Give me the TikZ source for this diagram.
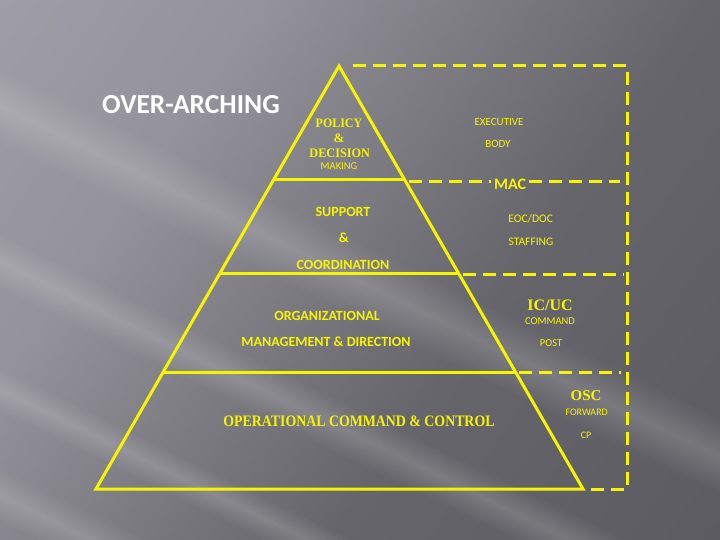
\documentclass[tikz,border=0pt]{standalone}
\usepackage{fontspec}
\setmainfont{Liberation Serif}
\setsansfont{Carlito}
\usetikzlibrary{fadings,calc}
\definecolor{ylw}{HTML}{F7F400}
\definecolor{bgA}{HTML}{AAA8AF}
\definecolor{bgB}{HTML}{94929A}
\definecolor{bgC}{HTML}{66656B}
\definecolor{bgD}{HTML}{56555B}
\pgfdeclarehorizontalshading{bgshade}{100bp}{color(0bp)=(bgA); color(32bp)=(bgB); color(60bp)=(bgC); color(100bp)=(bgD)}
\tikzfading[name=streakfade, top color=transparent!100, bottom color=transparent!100, middle color=transparent!84]
\newcommand{\fs}[1]{\fontsize{#1}{#1}\selectfont}
\tikzset{
  solidline/.style={draw=ylw, line width=3pt, line join=miter},
  dashline/.style={draw=ylw, line width=3pt, dash pattern=on 13pt off 7pt},
  ytxt/.style={text=ylw, anchor=base, inner sep=0pt},
  ysans/.style={ytxt, font=\sffamily\fs{#1}},
  ysansb/.style={ytxt, font=\sffamily\bfseries\fs{#1}},
  yserif/.style={ytxt, font=\rmfamily\bfseries\fs{#1}},
}
\begin{document}
\begin{tikzpicture}[x=1pt,y=-1pt]
\useasboundingbox (0,0) rectangle (720,540);
\clip (0,0) rectangle (720,540);
% background
\shade[shading=bgshade, shading angle=-35] (0,0) rectangle (720,540);
\begin{scope}[transform canvas={rotate around={-26:(0,0)}}]
  \fill[white, path fading=streakfade] (-300,60) rectangle (900,130);
  \fill[white, path fading=streakfade] (-300,210) rectangle (900,260);
  \fill[white, path fading=streakfade] (-300,330) rectangle (900,370);
  \fill[white, path fading=streakfade] (-300,420) rectangle (900,470);
\end{scope}
% triangle
\coordinate (A) at (339,66);
\coordinate (BL) at (96,489);
\coordinate (BR) at (583,489);
\draw[solidline] (A) -- (BL) -- (BR) -- cycle;
\coordinate (L1) at ($(A)!0.2695!(BL)$);
\coordinate (R1) at ($(A)!0.2695!(BR)$);
\coordinate (L2) at ($(A)!0.4917!(BL)$);
\coordinate (R2) at ($(A)!0.4917!(BR)$);
\coordinate (L3) at ($(A)!0.7246!(BL)$);
\coordinate (R3) at ($(A)!0.7246!(BR)$);
\draw[solidline] (L1) -- (R1);
\draw[solidline] (L2) -- (R2);
\draw[solidline] (L3) -- (R3);
% dashed frame
\coordinate (T0) at (353,66);
\coordinate (TR) at (627,66);
\coordinate (BRc) at (627,489);
\coordinate (B0) at (591,489);
\draw[dashline] (T0) -- (TR) -- (BRc) -- (B0);
\node[ysansb=16] (mac) at (510,189.3) {MAC};
\coordinate (D1a) at (409,182);
\coordinate (D1b) at (620,182);
\draw[dashline] (D1a) -- ([xshift=-3pt]mac.west |- D1a);
\draw[dashline] ([xshift=3pt]mac.east |- D1b) -- (D1b);
\coordinate (D2a) at (463,274);
\coordinate (D2b) at (624,274);
\draw[dashline] (D2a) -- (D2b);
\coordinate (D3a) at (519,372.5);
\coordinate (D3b) at (621,372.5);
\draw[dashline] (D3a) -- (D3b);
% texts
\node[anchor=base, inner sep=0pt, text=white, font=\sffamily\bfseries\fs{27.5}] (over) at (191,114) {OVER-ARCHING};
\node[yserif=13] (policy) at (339,127.7) {\scalebox{0.92}[1]{POLICY}};
\node[yserif=13] (amp1) at (339,142.7) {\&};
\node[yserif=13] (decision) at (339.7,157.3) {\scalebox{0.94}[1]{DECISION}};
\node[ysans=10.5] (making) at (339,170) {MAKING};
\node[ysans=11] (exec) at (499,125.3) {EXECUTIVE};
\node[ysans=11] (body) at (498,147.7) {BODY};
\node[ysansb=14] (support) at (343,216.7) {SUPPORT};
\node[ysansb=14] (amp2) at (343.7,242.3) {\&};
\node[ysansb=14] (coord) at (343,269.3) {COORDINATION};
\node[ysans=11.5] (eoc) at (530.7,222.7) {EOC/DOC};
\node[ysans=11.5] (staff) at (531,245.3) {STAFFING};
\node[ysansb=14] (org) at (327,320) {ORGANIZATIONAL};
\node[ysansb=14] (mgmt) at (326,346.7) {MANAGEMENT \& DIRECTION};
\node[yserif=16] (icuc) at (550,310) {IC/UC};
\node[ysans=10.5] (cmd) at (550,324) {COMMAND};
\node[ysans=10.5] (post) at (551,346.7) {POST};
\node[yserif=16] (oper) at (359,426.7) {\scalebox{0.866}[1]{OPERATIONAL COMMAND \& CONTROL}};
\node[yserif=15] (osc) at (586,400.7) {OSC};
\node[ysans=10] (fwd) at (586.7,415) {FORWARD};
\node[ysans=10] (cp) at (586,438.3) {CP};
\end{tikzpicture}
\end{document}
